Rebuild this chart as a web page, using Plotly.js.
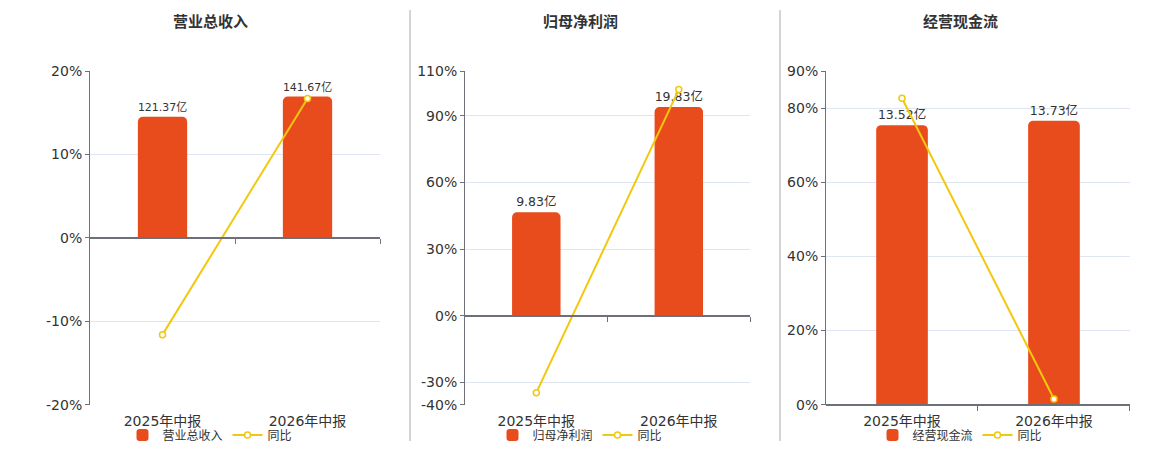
<!DOCTYPE html>
<html>
<head>
<meta charset="utf-8">
<script src="https://cdn.plot.ly/plotly-3.0.1.min.js"></script>
<style>
  body { margin: 0; background: #fff; }
  #myDiv { width: 1160px; height: 450px; }
</style>
</head>
<body>
<div id="myDiv"></div>
<script>
var categories = ['2025年中报', '2026年中报'];

var revenue = [121.37, 141.67];
var revenueYoY = [-11.6, 16.73];

var profit = [9.83, 19.83];
var profitYoY = [-34.6, 101.73];

var cash = [13.52, 13.73];
var cashYoY = [82.7, 1.55];

var panelTitles = ['营业总收入', '归母净利润', '经营现金流'];
var ticks1 = [-20, -10, 0, 10, 20];
var ticks2 = [-40, -30, 0, 30, 60, 90, 110];
var ticks3 = [0, 20, 40, 60, 80, 90];

var barColor = '#e84c1d';
var lineColor = '#f2c80f';
var axisColor = '#6e7079';
var gridColor = '#e0e6f1';
var font = '"DejaVu Sans", "Noto Sans CJK SC", sans-serif';

function barTrace(vals, name, n) {
  return {
    type: 'bar',
    x: categories,
    y: vals,
    name: name,
    xaxis: 'x' + (n === 1 ? '' : n),
    yaxis: 'y' + (n === 1 ? '' : n),
    legend: 'legend' + (n === 1 ? '' : n),
    width: 0.34,
    marker: { color: barColor },
    texttemplate: '%{y:.2f}亿',
    textposition: 'outside',
    textfont: { size: 12.5, color: '#333' },
    cliponaxis: false,
    hoverinfo: 'skip'
  };
}

function lineTrace(vals, n) {
  return {
    type: 'scatter',
    mode: 'lines+markers',
    x: categories,
    y: vals,
    name: '同比',
    xaxis: 'x' + (n === 1 ? '' : n),
    yaxis: 'y' + (n + 3),
    legend: 'legend' + (n === 1 ? '' : n),
    line: { color: lineColor, width: 2 },
    marker: { size: 6, color: '#fff', line: { color: lineColor, width: 1.5 } },
    cliponaxis: false,
    hoverinfo: 'skip'
  };
}

// empty traces so the zero-line axes exist
function zeroTrace(n) {
  return {
    type: 'scatter', x: [], y: [], showlegend: false, hoverinfo: 'skip',
    xaxis: 'x' + (n + 3), yaxis: 'y' + (n === 1 ? '' : n)
  };
}

var data = [
  barTrace(revenue, panelTitles[0], 1),
  barTrace(profit, panelTitles[1], 2),
  barTrace(cash, panelTitles[2], 3),
  lineTrace(revenueYoY, 1),
  lineTrace(profitYoY, 2),
  lineTrace(cashYoY, 3),
  zeroTrace(1), zeroTrace(2), zeroTrace(3)
];

var yDom = [0.0967, 0.8411];
var xDoms = [[0.0776, 0.3276], [0.4009, 0.6466], [0.7121, 0.9741]];
var pctRanges = [[-20, 20], [-40, 110], [0, 90]];
var barRanges = [[-167.1, 167.1], [-8.45, 23.24], [0, 16.13]];
var tickSets = [ticks1, ticks2, ticks3];
var centers = [210, 580, 960];

var layout = {
  width: 1160,
  height: 450,
  margin: { l: 0, r: 0, t: 0, b: 0 },
  paper_bgcolor: '#fff',
  plot_bgcolor: 'rgba(0,0,0,0)',
  font: { family: font, color: '#333' },
  barcornerradius: 5,
  annotations: [],
  shapes: [
    { type: 'line', xref: 'paper', yref: 'paper', x0: 410 / 1160, x1: 410 / 1160, y0: 1 - 443 / 450, y1: 1 - 10 / 450, line: { color: '#aaa', width: 1 } },
    { type: 'line', xref: 'paper', yref: 'paper', x0: 780 / 1160, x1: 780 / 1160, y0: 1 - 443 / 450, y1: 1 - 10 / 450, line: { color: '#aaa', width: 1 } }
  ]
};

for (var i = 0; i < 3; i++) {
  var n = i + 1;
  var sx = n === 1 ? '' : String(n);
  var pr = pctRanges[i];
  var zeroPos = yDom[0] + (yDom[1] - yDom[0]) * (0 - pr[0]) / (pr[1] - pr[0]);

  layout['xaxis' + sx] = {
    domain: xDoms[i],
    anchor: 'y' + sx,
    type: 'category',
    showline: false,
    showgrid: false,
    zeroline: false,
    ticks: '',
    ticklabelstandoff: 6,
    tickfont: { size: 14, color: '#333' },
    fixedrange: true
  };
  // axis line drawn through 0%
  layout['xaxis' + (n + 3)] = {
    overlaying: 'x' + sx,
    anchor: 'free',
    position: zeroPos,
    range: [-0.5, 1.5],
    tickvals: [0.5, 1.5],
    ticks: 'outside',
    ticklen: 5,
    tickcolor: axisColor,
    showticklabels: false,
    showline: true,
    linecolor: axisColor,
    linewidth: 2,
    showgrid: false,
    zeroline: false
  };
  // hidden bar axis
  layout['yaxis' + sx] = {
    domain: yDom,
    anchor: 'x' + sx,
    range: barRanges[i],
    visible: false,
    showgrid: false,
    zeroline: false
  };
  // percentage axis for yoy
  layout['yaxis' + (n + 3)] = {
    overlaying: 'y' + sx,
    anchor: 'x' + sx,
    side: 'left',
    range: pr,
    tickvals: tickSets[i],
    ticktext: tickSets[i].map(function (v) { return v + '%'; }),
    tickfont: { size: 14, color: '#333' },
    ticks: 'outside',
    ticklen: 4,
    tickcolor: axisColor,
    showline: true,
    linecolor: axisColor,
    linewidth: 1,
    showgrid: true,
    gridcolor: gridColor,
    gridwidth: 1,
    zeroline: false
  };
  layout['legend' + sx] = {
    orientation: 'h',
    x: centers[i] / 1160,
    xanchor: 'center',
    y: 1 - 437 / 450,
    yanchor: 'middle',
    font: { size: 12, color: '#333' },
    bgcolor: 'rgba(0,0,0,0)',
    itemwidth: 30,
    tracegroupgap: 0
  };
  layout.annotations.push({
    text: '<b>' + panelTitles[i] + '</b>',
    xref: 'paper', yref: 'paper',
    x: centers[i] / 1160, y: 1 - 22 / 450,
    xanchor: 'center', yanchor: 'middle',
    showarrow: false,
    font: { size: 15, color: '#333' }
  });
}

Plotly.newPlot('myDiv', data, layout, { displayModeBar: false, staticPlot: true });
</script>
</body>
</html>
